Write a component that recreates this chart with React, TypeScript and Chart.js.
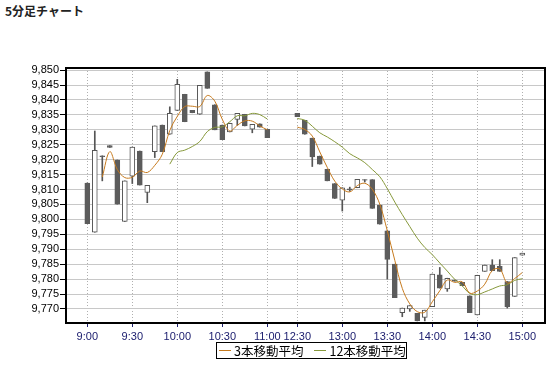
import React, { useEffect, useRef } from "react";
import { Chart, registerables } from "chart.js";

Chart.register(...registerables);

const TITLE = "5分足チャート";
const SERIES_NAMES = ["3本移動平均", "12本移動平均"];

const TIMES = [
  "9:00", "9:05", "9:10", "9:15", "9:20", "9:25", "9:30", "9:35", "9:40", "9:45", "9:50", "9:55",
  "10:00", "10:05", "10:10", "10:15", "10:20", "10:25", "10:30", "10:35", "10:40", "10:45", "10:50", "10:55",
  "11:00", "", "", "",
  "12:30", "12:35", "12:40", "12:45", "12:50", "12:55",
  "13:00", "13:05", "13:10", "13:15", "13:20", "13:25",
  "13:30", "13:35", "13:40", "13:45", "13:50", "13:55",
  "14:00", "14:05", "14:10", "14:15", "14:20", "14:25",
  "14:30", "14:35", "14:40", "14:45", "14:50", "14:55",
  "15:00",
];

const X_TICK_INDEX = [0, 6, 12, 18, 24, 28, 34, 40, 46, 52, 58];
const Y_TICKS = [9770, 9775, 9780, 9785, 9790, 9795, 9800, 9805, 9810, 9815, 9820, 9825, 9830, 9835, 9840, 9845, 9850];

const OPEN = [
  9812.2, 9795.7, 9821.3, 9824.7, 9819.9, 9799.3, 9814.5, 9822.9, 9809.0, 9822.7, 9831.6, 9828.5,
  9836.5, 9841.9, 9836.5, 9835.2, 9849.4, 9838.4, 9831.6, 9829.3, 9833.5, 9835.2, 9830.2, 9832.0,
  9830.2, null, null, null,
  9835.5, 9833.2, 9827.2, 9821.2, 9816.8, 9812.0,
  9806.4, 9810.2, 9810.6, 9813.3, 9813.3, 9804.8,
  9796.2, 9785.0, 9768.8, 9770.0, 9768.5, 9767.2,
  9770.8, 9781.4, 9776.7, 9779.7, 9778.9, 9774.4,
  9768.0, 9782.6, 9784.7, 9784.3, 9779.2, 9774.2,
  9788.0,
];
const HIGH = [
  9812.2, 9829.6, 9821.3, 9824.7, 9819.9, 9812.9, 9824.2, 9822.9, 9811.4, 9831.3, 9831.6, 9837.7,
  9846.9, 9841.9, 9836.5, 9844.9, 9849.4, 9838.4, 9831.6, 9832.2, 9835.5, 9835.2, 9831.8, 9832.0,
  9830.2, null, null, null,
  9835.5, 9833.2, 9827.2, 9821.2, 9816.8, 9812.0,
  9810.6, 9810.8, 9813.4, 9813.3, 9813.3, 9804.8,
  9796.2, 9785.0, 9770.3, 9771.1, 9768.5, 9769.6,
  9781.7, 9783.9, 9780.3, 9779.7, 9778.9, 9774.4,
  9781.3, 9784.7, 9786.5, 9786.5, 9779.2, 9787.2,
  9788.7,
];
const LOW = [
  9798.6, 9795.7, 9812.9, 9824.1, 9805.1, 9799.3, 9812.0, 9811.5, 9805.6, 9820.7, 9822.7, 9828.5,
  9836.5, 9832.7, 9835.7, 9835.2, 9843.9, 9830.0, 9826.7, 9829.3, 9831.5, 9831.3, 9829.0, 9830.9,
  9827.4, null, null, null,
  9834.4, 9828.5, 9817.7, 9818.5, 9812.9, 9807.0,
  9802.8, 9809.4, 9810.6, 9812.5, 9803.7, 9798.4,
  9780.0, 9773.8, 9767.4, 9769.2, 9766.0, 9766.0,
  9770.8, 9777.0, 9775.9, 9779.3, 9777.8, 9768.8,
  9768.0, 9782.6, 9782.8, 9782.6, 9770.3, 9774.2,
  9788.0,
];
const CLOSE = [
  9798.6, 9823.1, 9821.0, 9824.1, 9805.1, 9812.9, 9824.2, 9811.5, 9811.4, 9831.3, 9822.7, 9835.5,
  9845.2, 9832.7, 9835.7, 9844.9, 9843.9, 9830.0, 9826.7, 9832.2, 9835.5, 9831.3, 9831.8, 9830.9,
  9827.4, null, null, null,
  9834.4, 9828.5, 9820.9, 9818.5, 9812.9, 9807.0,
  9810.6, 9809.9, 9813.4, 9813.1, 9803.7, 9798.4,
  9786.6, 9773.8, 9770.3, 9771.1, 9766.0, 9769.6,
  9781.7, 9777.0, 9780.3, 9779.3, 9777.8, 9768.8,
  9781.3, 9784.7, 9782.8, 9782.6, 9770.8, 9787.2,
  9788.7,
];
const MA3 = [
  null, null, 9814.2, 9822.7, 9816.7, 9814.0, 9814.1, 9816.2, 9815.7, 9818.1, 9821.8, 9829.8,
  9834.5, 9837.8, 9837.9, 9837.8, 9841.5, 9839.6, 9833.5, 9829.6, 9831.5, 9833.0, 9832.9, 9831.3,
  9830.0, null, null, null,
  9830.9, 9830.1, 9827.9, 9822.6, 9817.4, 9812.8,
  9810.2, 9809.2, 9811.3, 9812.1, 9810.1, 9805.1,
  9796.2, 9786.3, 9776.9, 9771.7, 9769.1, 9768.9,
  9772.4, 9776.1, 9779.7, 9778.9, 9779.1, 9775.3,
  9776.0, 9778.3, 9782.9, 9783.4, 9778.7, 9780.2,
  9782.2,
];
const MA12 = [
  null, null, null, null, null, null, null, null, null, null, null, 9818.5,
  9822.4, 9823.2, 9824.4, 9826.1, 9829.4, 9830.8, 9831.0, 9832.7, 9834.7, 9834.7, 9835.5, 9835.1,
  9833.6, null, null, null,
  9833.8, 9833.2, 9831.2, 9829.0, 9827.6, 9826.0,
  9824.2, 9822.0, 9820.6, 9819.0, 9816.7, 9814.3,
  9810.3, 9805.8, 9801.6, 9797.6, 9793.7, 9790.6,
  9788.2, 9785.4, 9782.7, 9779.9, 9777.7, 9775.2,
  9774.8, 9775.7, 9776.7, 9777.7, 9778.1, 9779.6,
  9780.1,
];

const Y_MIN = 9765.3;
const Y_MAX = 9850.7;
const X_MIN = -2.84;
const X_MAX = 61.03;

const DOWN_COLOR = "#5c5c5c";
const MA3_COLOR = "#c67a1e";
const MA12_COLOR = "#86983a";
const TICK_FONT = { family: "'Liberation Sans', Arial, sans-serif", size: 11 };

const framePlugin = {
  id: "frame",
  afterDraw(chart: any) {
    const { ctx, chartArea: a } = chart;
    ctx.save();
    ctx.strokeStyle = "#000";
    ctx.lineWidth = 2;
    ctx.strokeRect(a.left, a.top, a.right - a.left, a.bottom - a.top);
    ctx.restore();
  },
};

export default function App() {
  const ref = useRef<HTMLCanvasElement | null>(null);

  useEffect(() => {
    if (!ref.current) return;
    const idx = TIMES.map((_, i) => i);
    const present = idx.filter((i) => OPEN[i] != null);
    const wicks = present.map((i) => ({ x: i, y: [LOW[i], HIGH[i]] }));
    const bodies = present.map((i) => ({
      x: i,
      y: [Math.min(OPEN[i] as number, CLOSE[i] as number), Math.max(OPEN[i] as number, CLOSE[i] as number)],
    }));
    const isUp = (i: number) => (CLOSE[i] as number) >= (OPEN[i] as number);

    const chart = new Chart(ref.current, {
      type: "bar",
      data: {
        datasets: [
          {
            type: "line",
            label: SERIES_NAMES[0],
            data: idx.map((i) => ({ x: i, y: MA3[i] })),
            borderColor: MA3_COLOR,
            borderWidth: 1,
            pointRadius: 0,
            tension: 0.35,
            spanGaps: false,
            order: 0,
          } as any,
          {
            type: "line",
            label: SERIES_NAMES[1],
            data: idx.map((i) => ({ x: i, y: MA12[i] })),
            borderColor: MA12_COLOR,
            borderWidth: 1,
            pointRadius: 0,
            tension: 0.35,
            spanGaps: false,
            order: 0,
          } as any,
          {
            label: "body",
            data: bodies as any,
            grouped: false,
            barThickness: 5,
            borderWidth: 1,
            borderSkipped: false,
            backgroundColor: (c: any) => (isUp(present[c.dataIndex]) ? "#ffffff" : DOWN_COLOR),
            borderColor: (c: any) => (isUp(present[c.dataIndex]) ? "#555555" : DOWN_COLOR),
            order: 1,
          } as any,
          {
            label: "wick",
            data: wicks as any,
            grouped: false,
            barThickness: 1,
            borderWidth: 0,
            backgroundColor: "#555555",
            order: 2,
          } as any,
        ],
      },
      options: {
        responsive: false,
        animation: false,
        devicePixelRatio: 1,
        events: [],
        layout: { padding: { top: 68, right: 11, left: 0, bottom: 0 } },
        plugins: {
          legend: { display: false },
          title: { display: false },
          tooltip: { enabled: false },
        },
        scales: {
          x: {
            type: "linear",
            offset: false,
            min: X_MIN,
            max: X_MAX,
            afterBuildTicks: (s: any) => {
              s.ticks = X_TICK_INDEX.map((v) => ({ value: v }));
            },
            afterFit: (s: any) => {
              s.height = 42;
            },
            ticks: {
              autoSkip: false,
              maxRotation: 0,
              padding: 3,
              color: "#1e2070",
              font: TICK_FONT,
              callback: (v: any) => TIMES[Math.round(v)] ?? "",
            },
            grid: {
              offset: false,
              color: "#b0b0b0",
              lineWidth: 1,
              drawTicks: true,
              tickLength: 4,
              tickColor: "#1e2070",
              tickBorderDash: [],
            },
            border: { display: false, dash: [1, 2] },
          },
          y: {
            type: "linear",
            min: Y_MIN,
            max: Y_MAX,
            afterBuildTicks: (s: any) => {
              s.ticks = Y_TICKS.map((v) => ({ value: v }));
            },
            afterFit: (s: any) => {
              s.width = 66;
            },
            ticks: {
              autoSkip: false,
              padding: 1,
              color: "#000000",
              font: TICK_FONT,
              callback: (v: any) => Number(v).toLocaleString("en-US"),
            },
            grid: {
              color: "#c8c8c8",
              lineWidth: 1,
              drawTicks: true,
              tickLength: 6,
              tickColor: "#000000",
            },
            border: { display: false },
          },
        },
      },
      plugins: [framePlugin],
    } as any);
    return () => chart.destroy();
  }, []);

  return (
    <div style={{ position: "fixed", left: 0, top: 0, width: 556, height: 365, background: "#fff" }}>
      <div
        style={{
          position: "absolute",
          left: 5,
          top: 3,
          fontFamily: "'Noto Sans CJK JP', sans-serif",
          fontWeight: "bold",
          fontSize: 12,
          lineHeight: "16px",
          color: "#222",
        }}
      >
        {TITLE}
      </div>
      <canvas ref={ref} width={556} height={365} style={{ position: "absolute", left: 0, top: 0, width: 556, height: 365 }} />
      <div
        style={{
          position: "absolute",
          left: 216,
          top: 342,
          width: 191,
          height: 17,
          boxSizing: "border-box",
          border: "1px solid #000",
          display: "flex",
          alignItems: "center",
          fontFamily: "'Noto Sans CJK JP', sans-serif",
          fontSize: 12.5,
          color: "#000",
          whiteSpace: "nowrap",
        }}
      >
        <span style={{ display: "inline-block", width: 12, height: 1, background: MA3_COLOR, marginLeft: 2, marginRight: 3 }} />
        <span>{SERIES_NAMES[0]}</span>
        <span style={{ display: "inline-block", width: 12, height: 1, background: MA12_COLOR, marginLeft: 11, marginRight: 3 }} />
        <span>{SERIES_NAMES[1]}</span>
      </div>
    </div>
  );
}
